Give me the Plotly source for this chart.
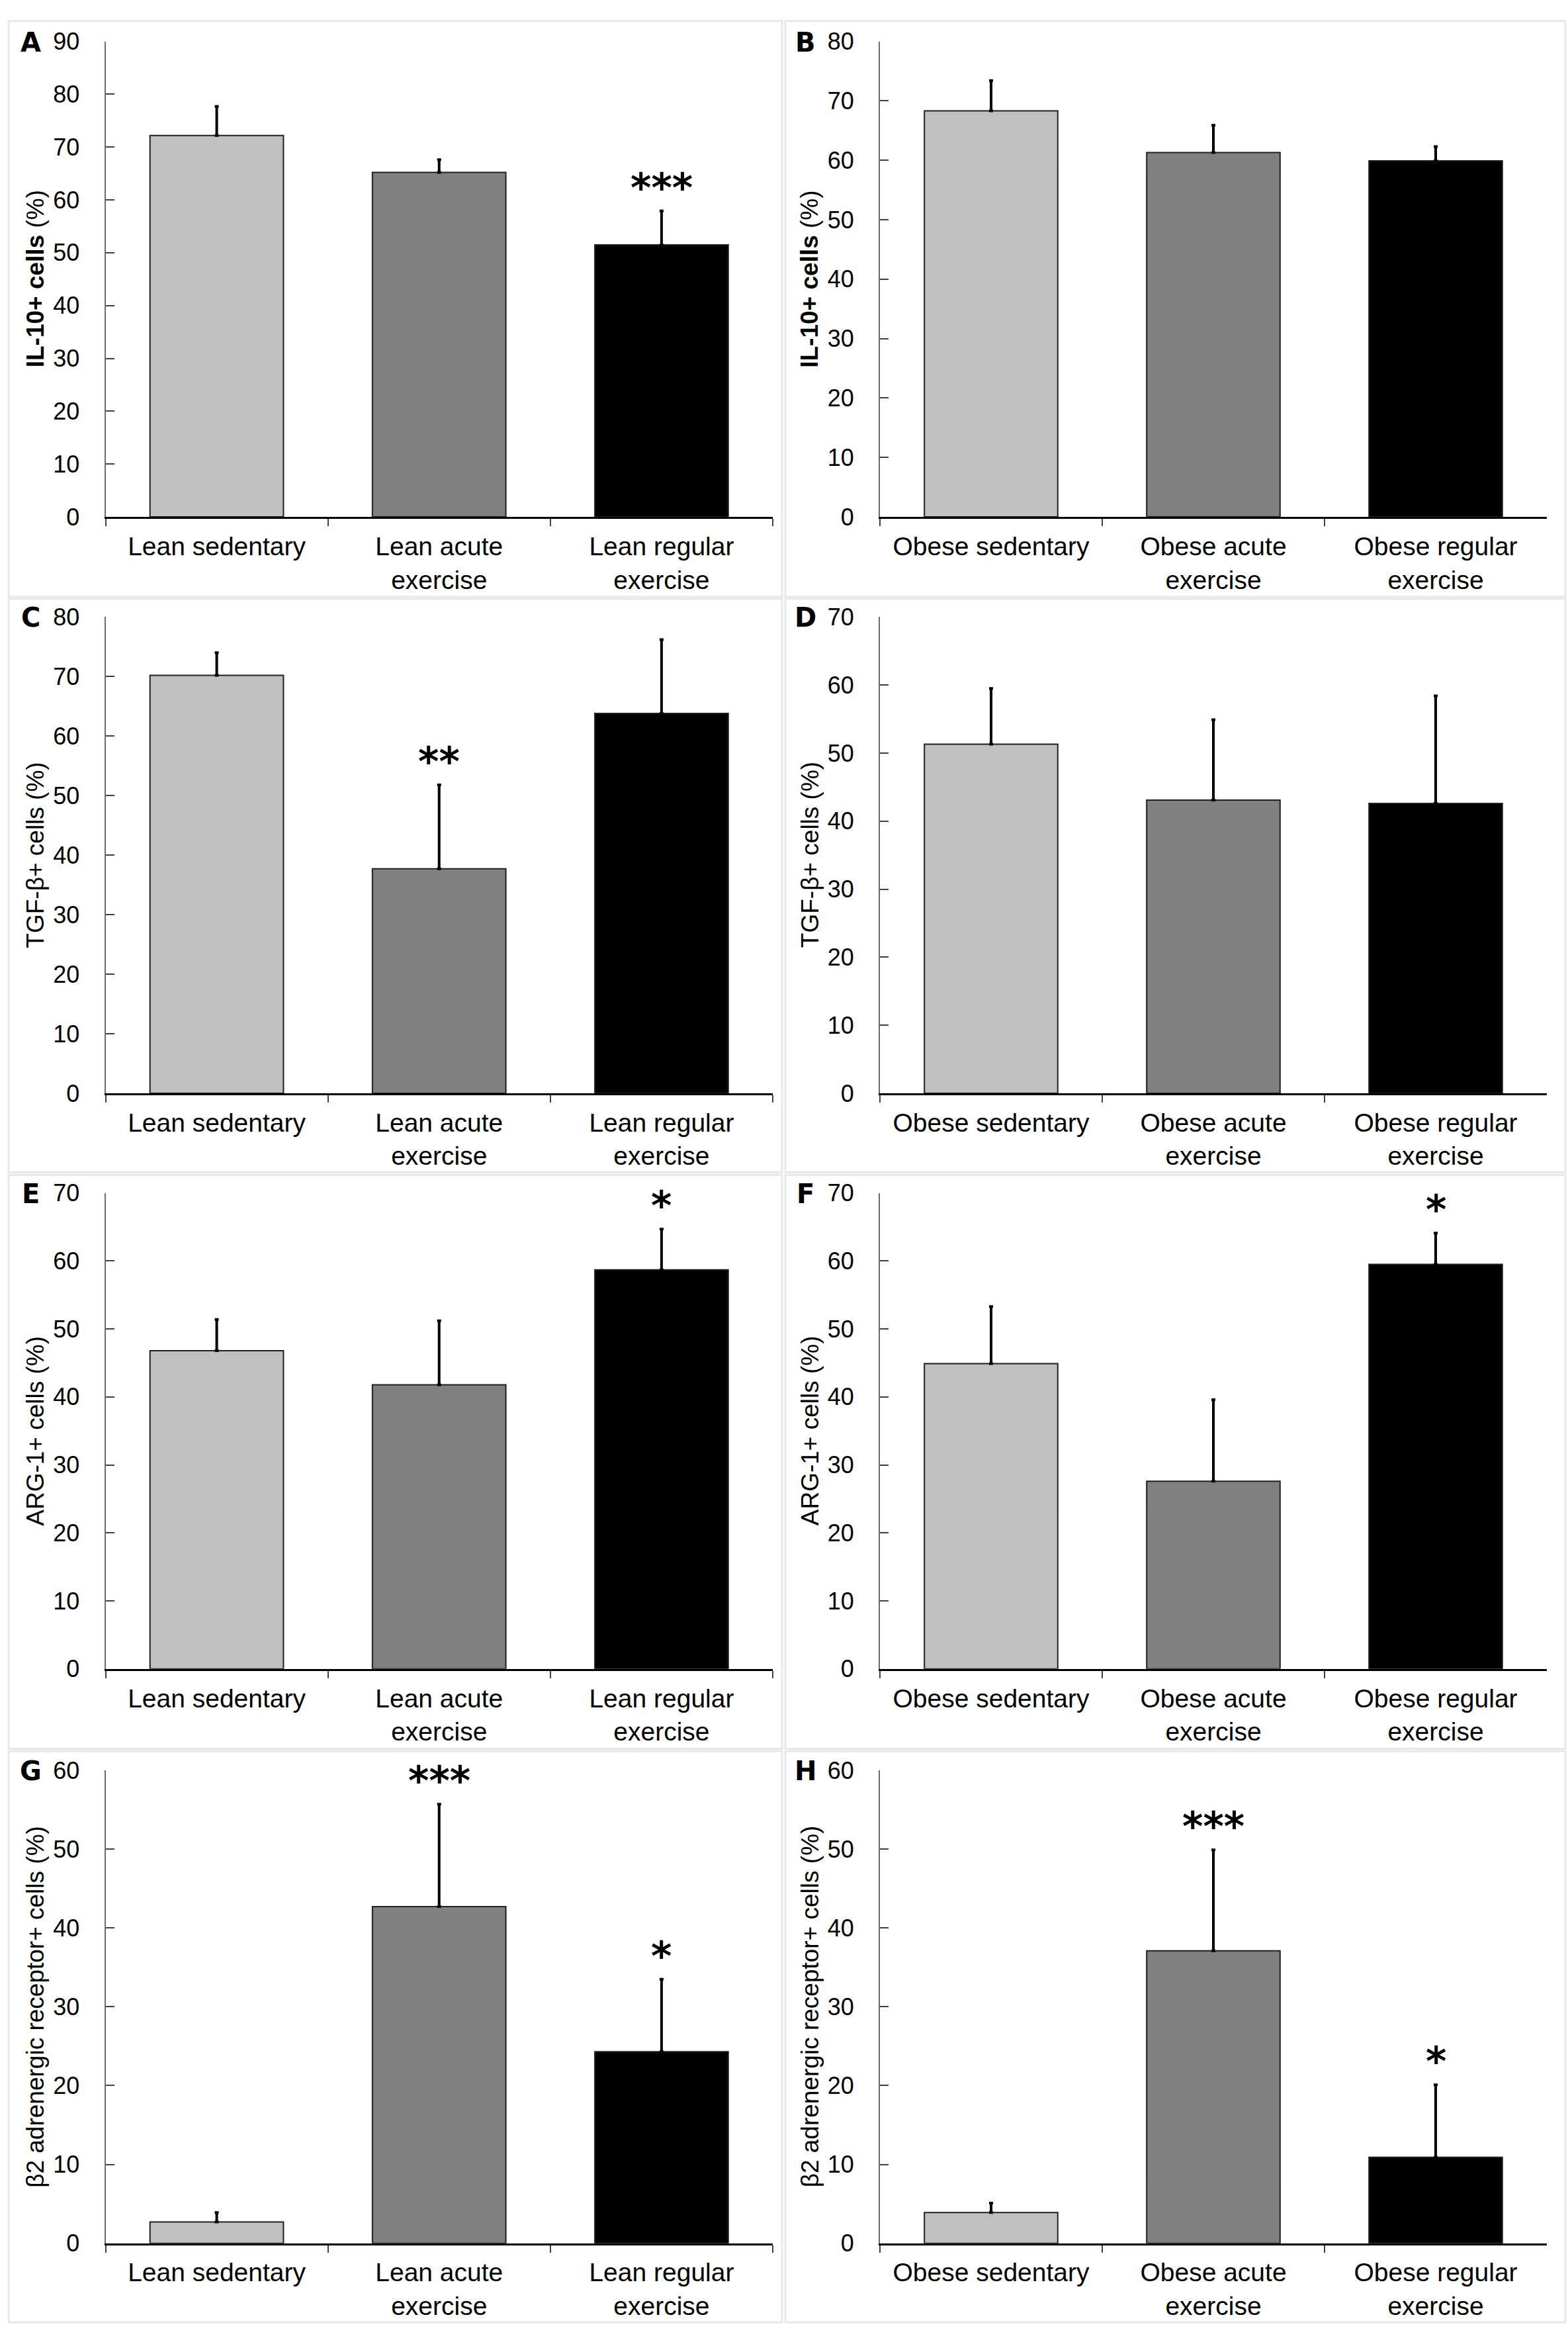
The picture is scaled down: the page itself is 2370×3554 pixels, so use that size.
import plotly.graph_objects as go

W, H = 2370, 3554

# ---------------- data ----------------
cats_lean = ["Lean sedentary", "Lean acute<br>exercise", "Lean regular<br>exercise"]
cats_obese = ["Obese sedentary", "Obese acute<br>exercise", "Obese regular<br>exercise"]

il10_lean_mean = [72.2, 65.2, 51.5]
il10_lean_sem = [5.5, 2.4, 6.4]
il10_lean_sig = ["", "", "***"]

il10_obese_mean = [68.3, 61.3, 59.9]
il10_obese_sem = [5.1, 4.6, 2.4]
il10_obese_sig = ["", "", ""]

tgf_lean_mean = [70.2, 37.7, 63.8]
tgf_lean_sem = [3.8, 14.1, 12.4]
tgf_lean_sig = ["", "**", ""]

tgf_obese_mean = [51.3, 43.1, 42.6]
tgf_obese_sem = [8.2, 11.8, 15.8]
tgf_obese_sig = ["", "", ""]

arg_lean_mean = [46.8, 41.8, 58.7]
arg_lean_sem = [4.6, 9.4, 6.0]
arg_lean_sig = ["", "", "*"]

arg_obese_mean = [44.9, 27.6, 59.5]
arg_obese_sem = [8.4, 12.0, 4.6]
arg_obese_sig = ["", "", "*"]

b2_lean_mean = [2.7, 42.7, 24.3]
b2_lean_sem = [1.2, 13.0, 9.2]
b2_lean_sig = ["", "***", "*"]

b2_obese_mean = [3.9, 37.1, 10.9]
b2_obese_sem = [1.2, 12.8, 9.2]
b2_obese_sig = ["", "***", "*"]

y_max = [90, 80, 80, 70, 70, 70, 60, 60]
y_titles = ["<b>IL-10+ cells</b> (%)", "<b>IL-10+ cells</b> (%)",
            "TGF-β+ cells (%)", "TGF-β+ cells (%)",
            "ARG-1+ cells (%)", "ARG-1+ cells (%)",
            "β2 adrenergic receptor+ cells (%)", "β2 adrenergic receptor+ cells (%)"]
letters = ["A", "B", "C", "D", "E", "F", "G", "H"]

bar_colors = ["#C0C0C0", "#808080", "#000000"]

panels = [
    (cats_lean, il10_lean_mean, il10_lean_sem, il10_lean_sig),
    (cats_obese, il10_obese_mean, il10_obese_sem, il10_obese_sig),
    (cats_lean, tgf_lean_mean, tgf_lean_sem, tgf_lean_sig),
    (cats_obese, tgf_obese_mean, tgf_obese_sem, tgf_obese_sig),
    (cats_lean, arg_lean_mean, arg_lean_sem, arg_lean_sig),
    (cats_obese, arg_obese_mean, arg_obese_sem, arg_obese_sig),
    (cats_lean, b2_lean_mean, b2_lean_sem, b2_lean_sig),
    (cats_obese, b2_obese_mean, b2_obese_sem, b2_obese_sig),
]

# ---------------- layout geometry (pixels) ----------------
col_x = [(159.5, 1168), (1330, 2338)]
row_y = [(43, 770), (923, 1651), (1803.5, 2531), (2686, 3409)]  # top, bottom (px from top)

FONT = "Liberation Sans"
TICK_FS = 36
CAT_FS = 39
TITLE_FS = 37

fig = go.Figure()
layout = dict(
    width=W, height=H,
    margin=dict(l=0, r=0, t=0, b=0),
    paper_bgcolor="white", plot_bgcolor="white",
    showlegend=False,
    font=dict(family=FONT, size=TICK_FS, color="black"),
    bargap=0.4,
)
annotations = []
shapes = []

for i, (cats, means, sems, sigs) in enumerate(panels):
    r, c = divmod(i, 2)
    k = i + 1
    xa = "x" if k == 1 else f"x{k}"
    ya = "y" if k == 1 else f"y{k}"
    x0, x1 = col_x[c]
    top, bot = row_y[r]
    xdom = [x0 / W, x1 / W]
    ydom = [1 - bot / H, 1 - top / H]

    fig.add_trace(go.Bar(
        x=cats, y=means,
        marker=dict(color=bar_colors, line=dict(color="#202020", width=2)),
        width=0.6,
        error_y=dict(type="data", symmetric=False, array=sems, arrayminus=[0] * len(sems),
                     color="black", thickness=4, width=3),
        xaxis=xa, yaxis=ya, hoverinfo="skip",
    ))

    layout["xaxis" if k == 1 else f"xaxis{k}"] = dict(
        domain=xdom, anchor=ya, type="category", range=[-0.5, 2.5],
        showline=True, linecolor="black", linewidth=3,
        ticks="outside", tickson="boundaries", ticklen=11, tickwidth=2, tickcolor="#404040",
        tickfont=dict(family=FONT, size=CAT_FS, color="black"),
        showgrid=False, zeroline=False, ticklabelstandoff=8,
    )
    layout["yaxis" if k == 1 else f"yaxis{k}"] = dict(
        domain=ydom, anchor=xa, range=[0, y_max[i]], dtick=10, tick0=0,
        showline=True, linecolor="#6A6A6A", linewidth=2,
        ticks="inside", ticklen=13, tickwidth=2, tickcolor="#404040",
        tickfont=dict(family=FONT, size=TICK_FS, color="black"),
        showgrid=False, zeroline=False, ticklabelstandoff=30,
    )

    # y-axis title
    annotations.append(dict(
        xref="paper", yref="paper", x=(x0 - 106) / W, y=(ydom[0] + ydom[1]) / 2,
        text=y_titles[i], textangle=-90, showarrow=False,
        xanchor="center", yanchor="middle",
        font=dict(family=FONT, size=TITLE_FS, color="black"),
    ))
    # panel letter
    annotations.append(dict(
        xref="paper", yref="paper", x=(x0 - 113) / W, y=ydom[1],
        text=f"<b>{letters[i]}</b>", showarrow=False,
        xanchor="center", yanchor="middle", yshift=-1,
        font=dict(family="DejaVu Sans", size=40, color="black"),
    ))
    # significance marks
    for cat, m, s, sig in zip(cats, means, sems, sigs):
        if sig:
            annotations.append(dict(
                xref=xa, yref=ya, x=cat, y=m + s, text=f"<b>{sig}</b>", showarrow=False,
                xanchor="center", yanchor="bottom", yshift=-2,
                font=dict(family="DejaVu Sans", size=60, color="black"),
            ))

# faint panel frames
frame_cols = [(13, 1182), (1187, 2366)]
frame_rows = [(12, 892), (895, 1772), (1776, 2653), (2657, 3530)]
for (fx0, fx1) in frame_cols:
    for (fy0, fy1) in frame_rows:
        shapes.append(dict(type="rect", xref="paper", yref="paper",
                           x0=fx0 / W, x1=fx1 / W, y0=1 - fy1 / H, y1=1 - fy0 / H,
                           line=dict(color="#E8E8E8", width=3), layer="below"))

layout["annotations"] = annotations
layout["shapes"] = shapes
fig.update_layout(**layout)

fig.write_html("out.html", config={"displayModeBar": False},
               post_script="document.body.style.margin='0';")
